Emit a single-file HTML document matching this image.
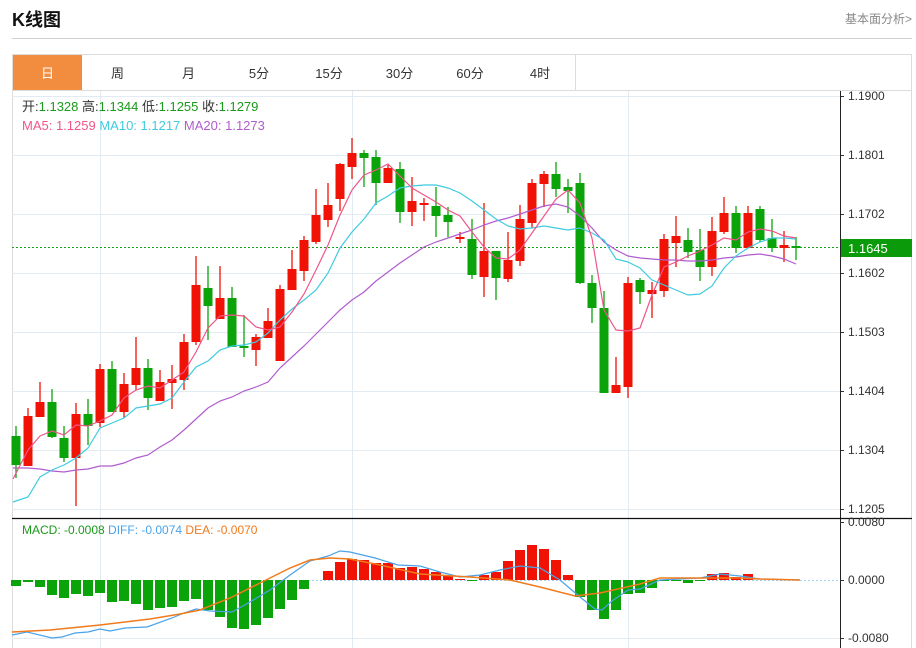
<!DOCTYPE html>
<html><head><meta charset="utf-8">
<style>
body{margin:0;background:#fff;font-family:"Liberation Sans","Noto Sans CJK SC",sans-serif;}
#w{position:relative;width:916px;height:648px;overflow:hidden;}
.t{position:absolute;white-space:nowrap;}
</style></head><body><div id="w">
<div class="t" style="left:12px;top:6px;font-size:18px;font-weight:bold;color:#111;">K线图</div>
<div class="t" style="left:845px;top:10px;font-size:12px;color:#888;">基本面分析&gt;</div>
<div style="position:absolute;left:12px;top:38px;width:900px;height:1px;background:#d0d0d0"></div>
<svg id="s" width="916" height="648" style="position:absolute;left:0;top:0" font-family="Liberation Sans, Noto Sans CJK SC, sans-serif"></svg>
</div>
<script>
const S=document.getElementById('s');let h='';
h+='<rect x="12.5" y="54.5" width="899" height="600" fill="none" stroke="#dcdcdc"/>';
const tabs=[[13,82,'日'],[82,153,'周'],[153,224,'月'],[224,294,'5分'],[294,364,'15分'],[364,435,'30分'],[435,505,'60分'],[505,575,'4时']];
tabs.forEach((t,i)=>{h+=`<rect x="${t[0]}" y="55" width="${t[1]-t[0]}" height="35" fill="${i?'#fff':'#f28c3e'}"/>`;
h+=`<line x1="${t[1]+.5}" y1="55" x2="${t[1]+.5}" y2="90" stroke="#dcdcdc"/>`;
h+=`<text x="${(t[0]+t[1])/2}" y="78" font-size="13" text-anchor="middle" fill="${i?'#333':'#fff'}">${t[2]}</text>`;});
h+='<line x1="12" y1="90.5" x2="912" y2="90.5" stroke="#dcdcdc"/>';
[96,155,214,273,332,391,450,509].forEach(y=>h+=`<line x1="12" y1="${y+.5}" x2="840" y2="${y+.5}" stroke="#e3ebf2"/>`);
[100,352,628].forEach(x=>h+=`<line x1="${x+.5}" y1="91" x2="${x+.5}" y2="648" stroke="#e3ebf2"/>`);
h+='<line x1="12" y1="638.5" x2="840" y2="638.5" stroke="#e3ebf2"/>';
const lab=[[96,'1.1900'],[155,'1.1801'],[214,'1.1702'],[273,'1.1602'],[332,'1.1503'],[391,'1.1404'],[450,'1.1304'],[509,'1.1205']];
lab.forEach(l=>{h+=`<line x1="840" y1="${l[0]+.5}" x2="844" y2="${l[0]+.5}" stroke="#333"/><text x="848" y="${l[0]+4}" font-size="12" fill="#333">${l[1]}</text>`;});
h+='<line x1="12" y1="247.5" x2="840" y2="247.5" stroke="#1aa31a" stroke-dasharray="2,2"/>';
const C=[[436,465,426,478,0],[416,466,408,466,1],[402,417,382,417,1],[402,437,389,438,0],[438,458,426,462,0],[414,458,403,506,1],[414,426,399,445,0],[369,423,364,427,1],[369,412,361,412,0],[384,412,373,418,1],[368,385,337,390,1],[368,398,359,410,0],[382,401,370,401,1],[379,383,365,409,1],[342,380,334,390,1],[285,342,256,345,1],[288,306,266,340,0],[298,319,266,319,1],[298,347,287,347,0],[346,348,315,357,0],[337,350,334,366,1],[321,338,308,338,1],[289,361,285,361,1],[269,290,250,290,1],[240,271,236,281,1],[215,242,189,244,1],[205,220,183,227,1],[164,199,163,211,1],[153,167,138,179,1],[153,158,150,187,0],[157,183,150,205,0],[168,183,165,183,1],[169,212,162,223,0],[201,212,177,226,1],[203,205,198,221,1],[206,216,187,237,0],[215,222,207,237,0],[237,239,232,243,1],[239,275,219,279,0],[251,277,203,297,1],[251,278,251,300,0],[260,279,232,282,1],[219,261,205,266,1],[183,223,179,228,1],[174,184,171,207,1],[174,189,162,197,0],[187,191,179,213,0],[183,283,173,284,0],[283,308,275,323,0],[308,393,291,393,0],[385,393,357,393,1],[283,387,277,398,1],[280,292,278,304,0],[290,294,282,318,1],[239,291,234,297,1],[236,243,216,267,1],[240,252,228,258,0],[250,267,229,281,0],[231,267,217,276,1],[213,232,197,234,1],[213,248,206,253,0],[213,248,206,248,1],[209,240,206,242,0],[238,248,219,252,0],[245,248,231,262,1],[246,248,237,260,0]];
C.forEach((c,i)=>{const x=16+12*i,col=c[4]?'#f01205':'#0aa30a';
h+=`<line x1="${x}" y1="${c[2]}" x2="${x}" y2="${c[3]}" stroke="${col}" stroke-width="1.3"/>`;
h+=`<rect x="${x-4.5}" y="${c[0]}" width="9" height="${Math.max(2,c[1]-c[0])}" fill="${col}"/>`;});
function pl(p,col,w){return `<polyline fill="none" stroke="${col}" stroke-width="${w||1.2}" points="${p.map(a=>a.join(',')).join(' ')}"/>`;}
const m5=[479,450,436,431,435,425,426,421,415,398,390,386,388,380,372,352,328,316,315,316,327,330,327,312,294,270,245,215,190,175,170,164,176,188,195,202,210,216,232,247,258,259,250,233,216,199,190,203,238,310,330,331,328,295,267,262,256,251,245,238,240,232,229,231,236,238];
const m10=[502,497,477,470,465,458,448,428,423,418,408,406,404,398,382,367,361,350,346,345,342,333,320,309,300,290,273,248,232,219,203,196,188,186,185,185,188,193,201,210,219,226,229,228,226,228,230,228,233,240,259,262,268,280,285,290,295,294,286,268,256,248,242,238,238,239];
const m20=[468,468,469,471,472,470,469,466,466,463,458,455,447,440,430,419,408,401,397,391,387,382,368,357,346,334,322,310,300,292,281,272,263,255,247,242,238,234,230,225,221,218,214,210,206,204,207,216,228,242,250,256,258,259,260,260,261,261,260,258,257,255,254,256,259,264];
const P=a=>a.map((y,i)=>[i==0?13:16+12*i,y]);
h+=pl(P(m20),'#b15ccf');h+=pl(P(m10),'#3fcbe0');h+=pl(P(m5),'#f0558a');
h+='<line x1="840.5" y1="91" x2="840.5" y2="648" stroke="#222"/>';
h+='<rect x="841" y="239" width="71" height="18" fill="#0a9a0a"/><text x="848" y="253" font-size="13" fill="#fff">1.1645</text>';
h+='<line x1="12" y1="518.5" x2="912" y2="518.5" stroke="#111" stroke-width="1.2"/>';
h+='<text x="22" y="111" font-size="13" fill="#333">开:<tspan fill="#1a9a1a">1.1328</tspan>  高:<tspan fill="#1a9a1a">1.1344</tspan>  低:<tspan fill="#1a9a1a">1.1255</tspan>  收:<tspan fill="#1a9a1a">1.1279</tspan></text>';
h+='<text x="22" y="130" font-size="13"><tspan fill="#f0558a">MA5: 1.1259</tspan>  <tspan fill="#3fcbe0">MA10: 1.1217</tspan>  <tspan fill="#b15ccf">MA20: 1.1273</tspan></text>';
h+='<text x="22" y="534" font-size="12"><tspan fill="#1a9a1a">MACD: -0.0008</tspan>  <tspan fill="#4aa3e8">DIFF: -0.0074</tspan>  <tspan fill="#f07a1c">DEA: -0.0070</tspan></text>';
[[522,'0.0080'],[580,'0.0000'],[638,'-0.0080']].forEach(l=>{h+=`<line x1="840" y1="${l[0]+.5}" x2="844" y2="${l[0]+.5}" stroke="#333"/><text x="848" y="${l[0]+4}" font-size="12" fill="#333">${l[1]}</text>`;});
h+='<line x1="12" y1="580.5" x2="840" y2="580.5" stroke="#9fd0f0" stroke-dasharray="2,2"/>';
const H=[-6,-2,-7,-15,-18,-14,-16,-13,-22,-21,-24,-30,-28,-27,-21,-19,-30,-37,-48,-49,-45,-38,-29,-20,-9,0,9,18,21,20,17,17,12,13,11,8,5,1,-1,5,8,19,30,35,31,20,5,-17,-30,-39,-30,-14,-13,-8,-1,-1,-3,-1,6,7,3,6,0,0,0,0];
H.forEach((v,i)=>{const x=16+12*i;if(v>0)h+=`<rect x="${x-5}" y="${580-v}" width="10" height="${v}" fill="#f01205"/>`;else if(v<0)h+=`<rect x="${x-5}" y="580" width="10" height="${-v}" fill="#0aa30a"/>`;});
h+=pl([[12,635],[27,632],[52,638],[62,637],[75,633],[88,632],[100,629],[110,631],[125,628],[147,627],[172,618],[184,613],[196,609],[210,611],[232,612],[250,602],[270,590],[290,575],[310,561],[328,556],[340,551],[350,552],[375,558],[398,565],[420,566],[440,572],[460,577],[480,575],[500,570],[520,566],[540,568],[560,580],[580,597],[595,609],[602,610],[612,601],[628,590],[640,589],[660,580],[700,578],[720,574],[740,576],[760,579],[800,580]],'#4aa3e8');
h+=pl([[12,632],[50,630],[100,625],[150,619],[180,614],[200,610],[230,598],[260,583],[290,568],[310,560],[330,558],[350,559],[380,565],[420,574],[470,577],[510,580],[540,587],[575,596],[600,593],[640,584],[660,578],[700,578],[740,578],[760,579],[800,580]],'#f07a1c',1.5);
S.innerHTML=h;
</script></body></html>
